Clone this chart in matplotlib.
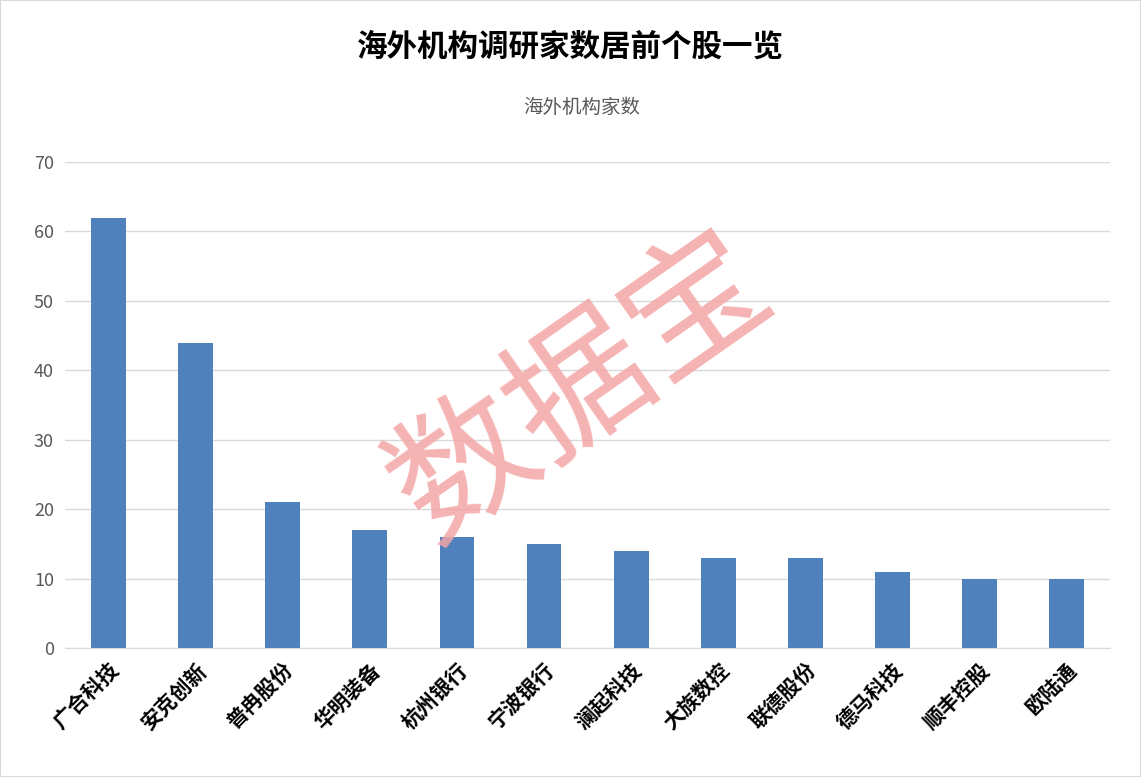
import matplotlib
matplotlib.use("Agg")
import matplotlib.pyplot as plt
from matplotlib.patches import Rectangle

plt.rcParams['font.family'] = ['Noto Sans CJK SC', 'DejaVu Sans']

categories = ["广合科技", "安克创新", "普冉股份", "华明装备", "杭州银行", "宁波银行",
              "澜起科技", "大族数控", "联德股份", "德马科技", "顺丰控股", "欧陆通"]
values = [62, 44, 21, 17, 16, 15, 14, 13, 13, 11, 10, 10]
yticks = [0, 10, 20, 30, 40, 50, 60, 70]

fig = plt.figure(figsize=(11.41, 7.77), dpi=100)
fig.patches.append(Rectangle((0, 0), 1, 1, transform=fig.transFigure, fill=False,
                             edgecolor="#d9d9d9", linewidth=1.5))
ax = fig.add_axes([0.057, 0.166, 0.916, 0.6255])
x = range(len(categories))
ax.bar(x, values, width=0.4, color="#4f81bd", zorder=3)
ax.set_xlim(-0.5, len(categories) - 0.5)
ax.set_ylim(0, 70)
ax.set_yticks(yticks)
ax.set_yticklabels([str(v) for v in yticks], fontsize=13, color="#595959")
ax.grid(axis="y", color="#d9d9d9", linewidth=1, zorder=0)
ax.set_xticks(list(x))
ax.set_xticklabels(categories, rotation=45, ha="right", rotation_mode="anchor",
                   fontsize=15, fontweight="bold", color="#000000")
for s in ["top", "right", "left"]:
    ax.spines[s].set_visible(False)
ax.spines["bottom"].set_color("#d9d9d9")
ax.tick_params(axis="both", length=0, pad=8)

fig.text(0.5, 0.94, "海外机构调研家数居前个股一览", ha="center", va="center",
         fontsize=22, fontweight="bold", color="#000000")
fig.text(0.51, 0.862, "海外机构家数", ha="center", va="center", fontsize=14, color="#595959")
fig.text(0.51, 0.5, "数据宝", ha="center", va="center", fontsize=102, rotation=35,
         color="#f4a6a6", alpha=0.85, zorder=10)

fig.savefig("out.png", dpi=100)
